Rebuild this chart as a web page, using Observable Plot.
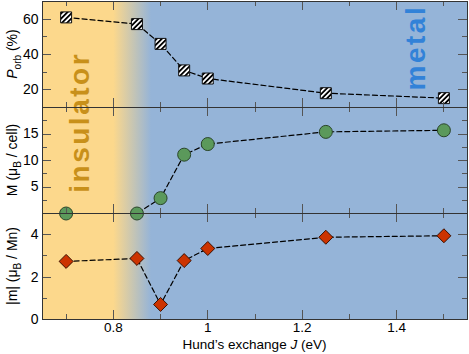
<!DOCTYPE html>
<html>
<head>
<meta charset="utf-8">
<script src="https://cdn.jsdelivr.net/npm/d3@7"></script>
<script src="https://cdn.jsdelivr.net/npm/@observablehq/plot@0.6"></script>
<style>
  body { margin: 0; background: #ffffff; }
  #chart { position: relative; width: 469px; height: 354px; font-family: "Liberation Sans", Arial, sans-serif; }
  #chart svg { position: absolute; left: 0; }
</style>
</head>
<body>
<div id="chart"></div>
<script>
// ---------- data ----------
const J = [0.7, 0.85, 0.9, 0.95, 1.0, 1.25, 1.5];
const pOrb = [61, 57.2, 46, 31, 26.4, 18.1, 15.3];
const momentCell = [0, 0, 2.9, 11.1, 13.1, 15.4, 15.7];
const momentMn = [2.74, 2.88, 0.71, 2.78, 3.35, 3.88, 3.95];

const xDomain = [0.65, 1.55];
const xTickValues = [0.8, 1.0, 1.2, 1.4];
const xTickLabels = ["0.8", "1", "1.2", "1.4"];
const xMinorTicks = [0.7, 0.9, 1.1, 1.3, 1.5];

const pOrbDomain = [10, 70];
const pOrbTicks = [20, 40, 60];
const pOrbMinor = [30, 50];
const cellDomain = [0, 20];
const cellTicks = [5, 10, 15];
const cellMinor = [2.5, 7.5, 12.5, 17.5];
const mnDomain = [0, 5];
const mnTicks = [0, 2, 4];
const mnMinor = [1, 3];

const fadeRange = [0.8, 0.88];           // insulator -> metal crossover (J)
const regionNames = ["insulator", "metal"];
const regionJ = [0.73, 1.442];
const regionPos = [0.62, 0.855];          // fraction of full plot height

const xTitle = [{t: "Hund\u2019s exchange "}, {t: "J", italic: true}, {t: " (eV)"}];
const yTitles = [
  [{t: "P", italic: true}, {t: "orb", sub: true}, {t: " (%)"}],
  [{t: "M (\u03bc"}, {t: "B", sub: true}, {t: " / cell)"}],
  [{t: "|m| (\u03bc"}, {t: "B", sub: true}, {t: " / Mn)"}]
];

// ---------- styles ----------
const insulatorBg = "#fcd88c";
const metalBg = "#95b4d8";
const insulatorText = "#c8901a";
const metalText = "#3282d8";
const frameColor = "#333333";
const tickColor = "#555555";
const W = 469, ML = 42, MR = 2;
const baseStyle = {background: "transparent", overflow: "visible", fontFamily: "Liberation Sans, Arial, sans-serif", fontSize: "13px"};
const fmt = d => String(d);

const rows = J.map((j, i) => ({J: j, pOrb: pOrb[i], cell: momentCell[i], mn: momentMn[i]}));

// ---------- helpers ----------
function richText(sel, parts, subSize) {
  let prevSub = false;
  for (const p of parts) {
    const ts = sel.append("tspan").text(p.t);
    if (p.italic) ts.attr("font-style", "italic");
    if (p.sub) ts.attr("font-size", subSize).attr("dy", 3.5);
    else if (prevSub) ts.attr("dy", -3.5);
    prevSub = !!p.sub;
  }
}

function yTitleMark(parts) {
  return (index, scales, values, dims) => {
    const cy = (dims.marginTop + dims.height - dims.marginBottom) / 2;
    const t = d3.create("svg:text")
      .attr("transform", `translate(17,${cy}) rotate(-90)`)
      .attr("text-anchor", "middle").attr("font-size", 14).attr("fill", "black");
    richText(t, parts, 10);
    return t.node();
  };
}

function xTitleMark(parts) {
  return (index, scales, values, dims) => {
    const cx = (dims.marginLeft + dims.width - dims.marginRight) / 2;
    const y = dims.height - dims.marginBottom + 30;
    const t = d3.create("svg:text").attr("x", cx).attr("y", y)
      .attr("text-anchor", "middle").attr("font-size", 13.5).attr("fill", "black");
    richText(t, parts, 10);
    return t.node();
  };
}

function innerTicks(yMajor, yMinor) {
  return (index, scales, values, dims) => {
    const l = dims.marginLeft, r = dims.width - dims.marginRight;
    const t = dims.marginTop, b = dims.height - dims.marginBottom;
    const g = d3.create("svg:g").attr("stroke", tickColor).attr("stroke-width", 1);
    const major = 9, minor = 5;
    for (const [vals, len] of [[xTickValues, major], [xMinorTicks, minor]]) {
      for (const v of vals) {
        const x = Math.round(scales.x(v)) + 0.5;
        g.append("line").attr("x1", x).attr("x2", x).attr("y1", b).attr("y2", b - len);
        g.append("line").attr("x1", x).attr("x2", x).attr("y1", t).attr("y2", t + len);
      }
    }
    for (const [vals, len] of [[yMajor, major], [yMinor, minor]]) {
      for (const v of vals) {
        const y = Math.round(scales.y(v)) + 0.5;
        g.append("line").attr("x1", l).attr("x2", l + len).attr("y1", y).attr("y2", y);
        g.append("line").attr("x1", r).attr("x2", r - len).attr("y1", y).attr("y2", y);
      }
    }
    return g.node();
  };
}

const hatchDefs = () => {
  const defs = d3.create("svg:defs");
  const p = defs.append("pattern").attr("id", "hatch")
    .attr("patternUnits", "userSpaceOnUse").attr("width", 3.6).attr("height", 3.6)
    .attr("patternTransform", "rotate(45)");
  p.append("rect").attr("width", 3.6).attr("height", 3.6).attr("fill", "white");
  p.append("rect").attr("width", 1.8).attr("height", 3.6).attr("fill", "black");
  return defs.node();
};

const gradDefs = (index, scales) => {
  const defs = d3.create("svg:defs");
  const g = defs.append("linearGradient").attr("id", "bgGrad")
    .attr("gradientUnits", "userSpaceOnUse")
    .attr("x1", scales.x(fadeRange[0])).attr("x2", scales.x(fadeRange[1]))
    .attr("y1", 0).attr("y2", 0);
  g.append("stop").attr("offset", 0).attr("stop-color", insulatorBg);
  g.append("stop").attr("offset", 1).attr("stop-color", metalBg);
  return defs.node();
};

const chart = document.getElementById("chart");
function place(svg, top) { svg.style.top = top + "px"; chart.appendChild(svg); }

// ---------- background layer ----------
const bg = Plot.plot({
  width: W, height: 354, marginLeft: ML, marginRight: MR, marginTop: 1, marginBottom: 35,
  style: baseStyle,
  x: {domain: xDomain, axis: null},
  y: {domain: [0, 1], axis: null},
  marks: [
    gradDefs,
    Plot.frame({fill: "url(#bgGrad)", stroke: "none"}),
    Plot.text([0], {x: () => regionJ[0], y: () => regionPos[0], text: () => regionNames[0],
      rotate: -90, fill: insulatorText, fontSize: 28, fontWeight: "bold", textAnchor: "middle", lineAnchor: "middle"}),
    Plot.text([0], {x: () => regionJ[1], y: () => regionPos[1], text: () => regionNames[1],
      rotate: -90, fill: metalText, fontSize: 28, fontWeight: "bold", textAnchor: "middle", lineAnchor: "middle"})
  ]
});
bg.querySelectorAll("text").forEach(t => t.style.letterSpacing = "2.5px");
place(bg, 0);

// ---------- panel 3 : |m| ----------
const p3 = Plot.plot({
  width: W, height: 141, marginLeft: ML, marginRight: MR, marginTop: 0, marginBottom: 35,
  style: baseStyle,
  x: {domain: xDomain},
  y: {domain: mnDomain},
  marks: [
    Plot.line(rows, {x: "J", y: "mn", stroke: "black", strokeWidth: 1.2, strokeDasharray: "5,3"}),
    Plot.dot(rows, {x: "J", y: "mn", symbol: "diamond2", r: 6.3, fill: "#cc3300", stroke: "#3a1000", strokeWidth: 1}),
    innerTicks(mnTicks, mnMinor),
    Plot.frame({stroke: frameColor}),
    Plot.axisY({ticks: mnTicks, tickSize: 0, tickPadding: 4, fontSize: 14, label: null, tickFormat: fmt}),
    Plot.axisX({ticks: xTickValues, tickSize: 0, tickPadding: 3, fontSize: 13.5, label: null,
      tickFormat: d => xTickLabels[xTickValues.indexOf(d)]}),
    yTitleMark(yTitles[2]),
    xTitleMark(xTitle)
  ]
});
place(p3, 213);

// ---------- panel 2 : M ----------
const p2 = Plot.plot({
  width: W, height: 106, marginLeft: ML, marginRight: MR, marginTop: 0, marginBottom: 0,
  style: baseStyle,
  x: {domain: xDomain, axis: null},
  y: {domain: cellDomain},
  marks: [
    Plot.line(rows, {x: "J", y: "cell", stroke: "black", strokeWidth: 1.2, strokeDasharray: "5,3"}),
    Plot.dot(rows, {x: "J", y: "cell", symbol: "circle", r: 6.5, fill: "#5b995b", stroke: "#2a452a", strokeWidth: 1}),
    innerTicks(cellTicks, cellMinor),
    Plot.frame({stroke: frameColor}),
    Plot.axisY({ticks: cellTicks, tickSize: 0, tickPadding: 4, fontSize: 14, label: null, tickFormat: fmt}),
    yTitleMark(yTitles[1])
  ]
});
place(p2, 107);

// ---------- panel 1 : P_orb ----------
const p1 = Plot.plot({
  width: W, height: 107, marginLeft: ML, marginRight: MR, marginTop: 1, marginBottom: 0,
  style: baseStyle,
  x: {domain: xDomain, axis: null},
  y: {domain: pOrbDomain},
  marks: [
    hatchDefs,
    Plot.line(rows, {x: "J", y: "pOrb", stroke: "black", strokeWidth: 1.2, strokeDasharray: "5,3"}),
    Plot.dot(rows, {x: "J", y: "pOrb", symbol: "square", r: 6.2, fill: "url(#hatch)", stroke: "#111", strokeWidth: 1}),
    innerTicks(pOrbTicks, pOrbMinor),
    Plot.frame({stroke: frameColor}),
    Plot.axisY({ticks: pOrbTicks, tickSize: 0, tickPadding: 4, fontSize: 14, label: null, tickFormat: fmt}),
    yTitleMark(yTitles[0])
  ]
});
place(p1, 0);
</script>
</body>
</html>
